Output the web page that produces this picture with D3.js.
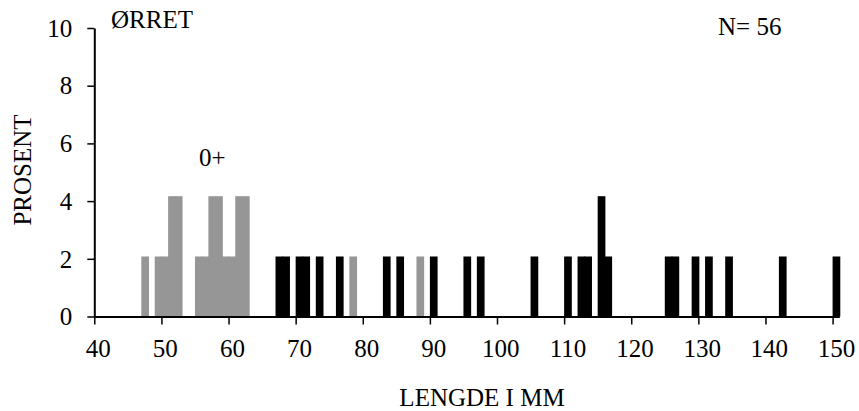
<!DOCTYPE html>
<html>
<head>
<meta charset="utf-8">
<script src="https://cdn.jsdelivr.net/npm/d3@7"></script>
<style>
  body { margin: 0; background: #fff; }
  text { font-family: "Liberation Serif", "Times New Roman", serif; fill: #000; }
</style>
</head>
<body>
<svg id="chart" width="859" height="411"></svg>
<script>
// length classes (mm) and percent per class
var youngLengths = [47, 49, 50, 51, 52, 55, 56, 57, 58, 59, 60, 61, 62, 78, 88];
var youngPct     = [2.08, 2.08, 2.08, 4.17, 4.17, 2.08, 2.08, 4.17, 4.17, 2.08, 2.08, 4.17, 4.17, 2.08, 2.08];
var olderLengths = [67, 68, 70, 71, 73, 76, 83, 85, 90, 95, 97, 105, 110, 112, 113, 115, 116, 125, 126, 129, 131, 134, 142, 150];
var olderPct     = [2.08, 2.08, 2.08, 2.08, 2.08, 2.08, 2.08, 2.08, 2.08, 2.08, 2.08, 2.08, 2.08, 2.08, 2.08, 4.17, 2.08, 2.08, 2.08, 2.08, 2.08, 2.08, 2.08, 2.08];
var xTicks = [40, 50, 60, 70, 80, 90, 100, 110, 120, 130, 140, 150];
var yTicks = [0, 2, 4, 6, 8, 10];

var svg = d3.select("#chart");

var x = d3.scaleLinear().domain([40, 151]).range([94.3, 839.3]);
var y = d3.scaleLinear().domain([0, 10]).range([316.5, 28]);
var half = (x(41) - x(40)) / 2;

function bars(lengths, pct, color) {
  var rows = lengths.map(function(l, i) { return { len: l, pct: pct[i] }; });
  svg.append("g").selectAll("rect")
    .data(rows)
    .enter().append("rect")
      .attr("x", function(d) { return x(d.len); })
      .attr("width", function(d) { return x(d.len + 1) - x(d.len) + 1; })
      .attr("y", function(d) { return y(d.pct); })
      .attr("height", function(d) { return y(0) - y(d.pct); })
      .attr("fill", color);
}

bars(youngLengths, youngPct, "#969696");
bars(olderLengths, olderPct, "#000");

// x axis
var xAxis = svg.append("g")
  .attr("transform", "translate(0," + y(0) + ")")
  .call(d3.axisBottom(x).tickValues(xTicks).tickSize(8).tickSizeOuter(0).tickFormat(d3.format("d")));
xAxis.select(".domain").attr("stroke", "#000").attr("stroke-width", 2);
xAxis.selectAll(".tick line").attr("stroke", "#000").attr("stroke-width", 1.5);
xAxis.selectAll(".tick text")
  .attr("x", half)
  .attr("y", 40)
  .attr("dy", 0)
  .style("font-family", "'Liberation Serif', 'Times New Roman', serif")
  .style("font-size", "25px");

// y axis
var yAxis = svg.append("g")
  .attr("transform", "translate(" + x(40) + ",0)")
  .call(d3.axisLeft(y).tickValues(yTicks).tickSize(7).tickSizeOuter(0));
yAxis.select(".domain").attr("stroke", "#000").attr("stroke-width", 2);
yAxis.selectAll(".tick line").attr("stroke", "#000").attr("stroke-width", 1.5);
yAxis.selectAll(".tick text")
  .attr("x", -22)
  .attr("dy", "0.33em")
  .style("font-family", "'Liberation Serif', 'Times New Roman', serif")
  .style("font-size", "25px");

// labels
svg.append("text")
  .attr("x", 111).attr("y", 28)
  .style("font-size", "25px")
  .text("ØRRET");

svg.append("text")
  .attr("x", 718).attr("y", 35)
  .style("font-size", "25px")
  .text("N= 56");

svg.append("text")
  .attr("x", 199).attr("y", 166)
  .style("font-size", "25px")
  .text("0+");

svg.append("text")
  .attr("transform", "translate(31,170) rotate(-90)")
  .attr("text-anchor", "middle")
  .style("font-size", "25px")
  .text("PROSENT");

svg.append("text")
  .attr("x", 482).attr("y", 406)
  .attr("text-anchor", "middle")
  .style("font-size", "25px")
  .text("LENGDE I MM");
</script>
</body>
</html>
